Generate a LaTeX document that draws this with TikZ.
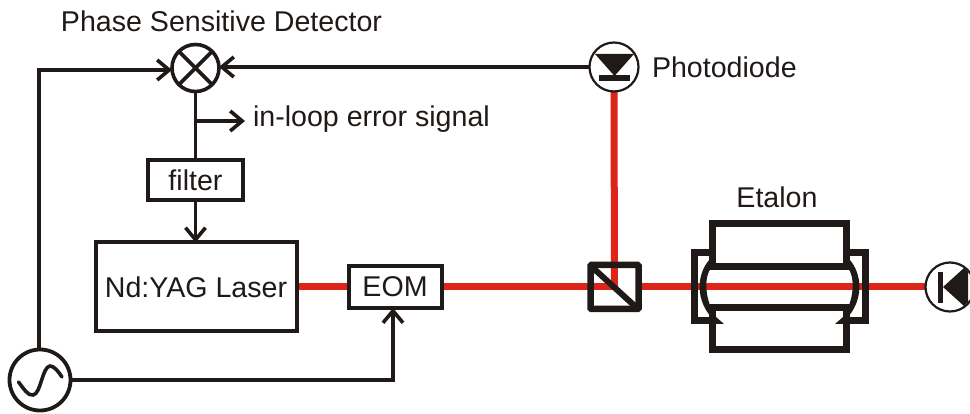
\documentclass[tikz,border=0pt]{standalone}
\usepackage{fontspec}
\setmainfont{Liberation Sans}
\usetikzlibrary{arrows.meta,backgrounds}
\definecolor{ink}{HTML}{1F1A17}
\definecolor{beamred}{HTML}{DE2519}
\tikzset{
  x=1pt,y=-1pt,
  every node/.style={font=\fontsize{28.6}{34}\selectfont,text=ink},
  wire/.style={draw=ink,line width=3.6pt},
  arrowwire/.style={wire,-{Straight Barb[length=12pt,width=20pt,line width=3.6pt]}},
  beam/.style={draw=beamred,line width=7pt},
  boxed/.style={draw=ink,line width=4pt,rectangle,inner sep=0pt,outer sep=0pt},
  thick box/.style={draw=ink,line width=7.5pt,rectangle,inner sep=0pt,outer sep=0pt},
  ring/.style={draw=ink,circle,inner sep=0pt,outer sep=0pt},
  plate/.style={draw=ink,line width=7pt,miter limit=10},
  glyph/.style={fill=ink,draw=none},
  lbl/.style={inner sep=0pt,outer sep=0pt}
}
\begin{document}
\begin{tikzpicture}
\useasboundingbox (0,0) rectangle (970,414);
\clip (0,0) rectangle (970,414);
% nodes
\node[ring,line width=3.6pt,minimum size=47pt] (mixer) at (195.5,68) {};
\node[ring,line width=2.2pt,minimum size=49pt] (pd) at (614,67) {};
\node[ring,line width=2.2pt,minimum size=49pt] (det) at (950,287) {};
\node[ring,line width=3.8pt,minimum size=61pt] (src) at (40,380) {};
\node[boxed,minimum width=95pt,minimum height=40pt] (filter) at (195.5,180) {filter};
\node[boxed,minimum width=201pt,minimum height=89pt] (laser) at (196,287) {Nd:YAG Laser};
\node[boxed,minimum width=93pt,minimum height=42pt] (eom) at (395,287) {EOM};
\node[draw=ink,line width=6.5pt,rounded corners=1pt,minimum width=48pt,minimum height=44pt,inner sep=0pt,outer sep=0pt] (bs) at (614.5,287) {};
\node[thick box,minimum width=134pt,minimum height=43pt] (etalontop) at (779.5,245) {};
\node[thick box,minimum width=134pt,minimum height=42pt] (etalonbot) at (779.5,328.5) {};
% text
\node[lbl] (tpsd) at (221.5,21) {Phase Sensitive Detector};
\node[lbl,anchor=west] (terr) at (253,119) {in-loop error signal};
\node[lbl,anchor=west] (tpd) at (652,67) {Photodiode};
\node[lbl] (tet) at (777,197) {Etalon};
\coordinate (errstart) at (195.5,121);
\coordinate (errend) at (245,121);
\coordinate (srccorner) at (39,70);
\coordinate (eomcorner) at (393,380);
% beams
\begin{scope}[on background layer]
\draw[beam] (laser.east) -- (eom.west);
\draw[beam] (eom.east) -- (bs.center);
\draw[beam] (bs.center) -- (pd.south);
\draw[beam] (bs.east) -- (det.west);
\end{scope}
% wires
\draw[arrowwire] (src.north -| srccorner) -- (srccorner) -- (mixer.west |- srccorner);
\draw[arrowwire] (pd.west) -- (mixer.east |- pd.west);
\draw[wire] (mixer.south) -- (filter.north);
\draw[arrowwire] (errstart) -- (errend);
\draw[arrowwire] (filter.south) -- (filter.south |- laser.north);
\draw[arrowwire] (src.east) -- (eomcorner) -- (eomcorner |- eom.south);
% mixer cross
\draw[wire] (mixer.45) -- (mixer.225);
\draw[wire] (mixer.135) -- (mixer.315);
% beam splitter diagonal
\draw[wire,line width=6pt] (592,267) -- (637,308);
% photodiode glyph
\fill[glyph] (595,54) -- (634,54) -- (614.5,76) -- cycle;
\fill[glyph] (599,75) rectangle (630,81);
% detector glyph
\fill[glyph] (938,272) rectangle (943,303);
\fill[glyph] (943,287) -- (964,268) -- (968,272) -- (968,302) -- (964,306) -- cycle;
% source sine
\draw[wire,line cap=round,line width=3.6pt] (18.5,382) .. controls (24,389) and (28,396) .. (33,395) .. controls (41,394) and (42,367) .. (50,366) .. controls (54,366) and (58,371) .. (62,377);
% etalon side plates
\draw[plate] (709,253) -- (694,253) -- (694,320.5) -- (713,320.5);
\draw[plate] (850,253) -- (865.5,253) -- (865.5,320.5) -- (846,320.5);
% mirrors
\fill[glyph] (710,259) .. controls (696,274) and (695,302) .. (714,320) -- (716,316) .. controls (705,302) and (703,276) .. (712,267) -- cycle;
\fill[glyph] (849,259) .. controls (863,274) and (864,302) .. (845,320) -- (843,316) .. controls (854,302) and (856,276) .. (847,267) -- cycle;
% small flares
\fill[glyph] (716,317) -- (724,324) -- (716,324) -- cycle;
\fill[glyph] (843,317) -- (835,324) -- (843,324) -- cycle;
\end{tikzpicture}
\end{document}
